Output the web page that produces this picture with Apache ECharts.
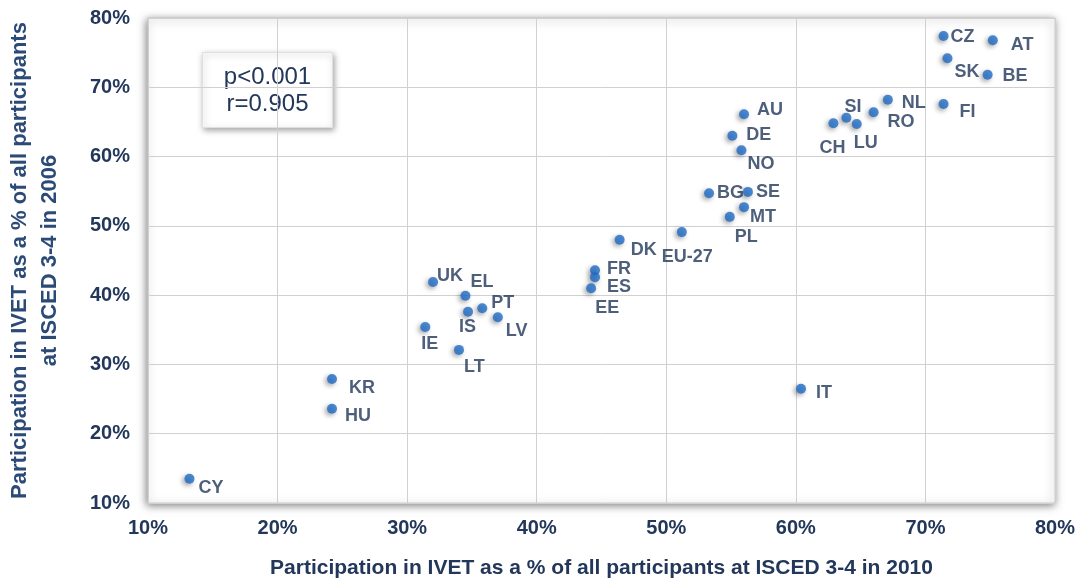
<!DOCTYPE html>
<html>
    <head>
        <meta charset="utf-8">
        <script src="https://cdn.jsdelivr.net/npm/echarts@6/dist/echarts.min.js"></script>
    </head>
    <body style="margin:0;background:#fff">
        <style>
            #main0 {
                width: 1083px;
                height: 583px;
            }
        </style>
        <div id="main0"></div>
        <script>
            // participation in IVET, % of all ISCED 3-4 participants
            var countries = ['CZ', 'AT', 'SK', 'BE', 'FI', 'NL', 'RO', 'SI', 'LU', 'CH',
                'AU', 'DE', 'NO', 'BG', 'SE', 'MT', 'PL', 'EU-27', 'DK', 'FR', 'ES', 'EE',
                'UK', 'EL', 'PT', 'IS', 'LV', 'IE', 'LT', 'KR', 'HU', 'CY', 'IT'];
            var share2010 = [71.4, 75.2, 71.7, 74.8, 71.4, 67.1, 66.0, 63.9, 64.7, 62.9,
                56.0, 55.1, 55.8, 53.3, 56.3, 56.0, 54.9, 51.2, 46.4, 44.5, 44.5, 44.2,
                32.0, 34.5, 35.8, 34.7, 37.0, 31.4, 34.0, 24.2, 24.2, 13.2, 60.4];
            var share2006 = [77.4, 76.8, 74.2, 71.8, 67.6, 68.2, 66.4, 65.6, 64.7, 64.8,
                66.1, 63.0, 60.9, 54.7, 54.9, 52.7, 51.3, 49.1, 48.0, 43.6, 42.6, 41.0,
                41.9, 39.9, 38.1, 37.6, 36.8, 35.4, 32.1, 27.9, 23.6, 13.5, 26.5];
            var ticks = [10, 20, 30, 40, 50, 60, 70, 80];
            var stats = ['p<0.001', 'r=0.905'];

            // label nudges (px) from the default 'right' spot, as in the original figure
            var labelOffset = {
                'CZ': [-3, 1], 'AT': [8, 5], 'SK': [-3, 14], 'BE': [5, 1], 'FI': [6, 8],
                'NL': [4, 3], 'RO': [4, 10], 'SI': [-12, -11], 'LU': [-13, 19], 'CH': [-24, 25],
                'AU': [3, -4], 'DE': [4, -1], 'NO': [-4, 14], 'BG': [-2, 0], 'SE': [-2, 0],
                'MT': [-4, 10], 'PL': [-5, 20], 'EU-27': [-30, 25], 'DK': [1, 10],
                'FR': [2, -1], 'ES': [2, 10], 'EE': [-6, 20], 'UK': [-6, -6], 'EL': [-5, -14],
                'PT': [-1, -5], 'IS': [-19, 15], 'LV': [-2, 14], 'IE': [-14, 17],
                'LT': [-5, 17], 'KR': [7, 9], 'HU': [3, 7], 'CY': [-1, 9], 'IT': [5, 4]
            };

            var navy = '#22375a';
            var font = 'Liberation Sans, Arial, sans-serif';
            var chart = echarts.init(document.getElementById('main0'));

            var points = countries.map(function (c, i) {
                return { name: c, value: [share2010[i], share2006[i]] };
            });

            var axisLabel = {
                formatter: '{value}%',
                color: navy,
                fontSize: 20,
                fontWeight: 'bold',
                fontFamily: font
            };
            var splitLine = { show: true, lineStyle: { color: '#d0d0d0', width: 1 } };

            chart.setOption({
                backgroundColor: '#fff',
                animation: false,
                grid: {
                    left: 148, top: 18, right: 28, bottom: 80,
                    containLabel: false,
                    outerBoundsMode: 'none',
                    show: true,
                    backgroundColor: '#fff',
                    borderColor: '#c8c8c8',
                    borderWidth: 1,
                    shadowColor: 'rgba(0,0,0,0.5)',
                    shadowBlur: 8,
                    shadowOffsetX: -1,
                    shadowOffsetY: 2
                },
                xAxis: {
                    type: 'value',
                    min: ticks[0], max: ticks[ticks.length - 1], interval: 10,
                    axisLine: { show: false },
                    axisTick: { show: false },
                    axisLabel: Object.assign({ margin: 15 }, axisLabel),
                    splitLine: splitLine,
                    name: 'Participation in IVET as a % of all participants at ISCED 3-4 in 2010',
                    nameLocation: 'middle',
                    nameGap: 55,
                    nameTextStyle: {
                        color: navy, fontSize: 21, fontWeight: 'bold', fontFamily: font
                    }
                },
                yAxis: {
                    type: 'value',
                    min: ticks[0], max: ticks[ticks.length - 1], interval: 10,
                    axisLine: { show: false },
                    axisTick: { show: false },
                    axisLabel: Object.assign({ margin: 18 }, axisLabel),
                    splitLine: splitLine,
                    name: 'Participation in IVET as a % of all participants\nat ISCED 3-4 in 2006',
                    nameLocation: 'middle',
                    nameGap: 83,
                    nameRotate: 90,
                    nameTextStyle: {
                        color: '#2b4a78', fontSize: 22, fontWeight: 'bold', lineHeight: 30,
                        fontFamily: font
                    }
                },
                graphic: [{
                    type: 'group',
                    left: 202, top: 52,
                    children: [{
                        type: 'rect',
                        shape: { x: 0, y: 0, width: 130, height: 75 },
                        style: {
                            fill: '#fff', stroke: '#e0e0e0', lineWidth: 1,
                            shadowColor: 'rgba(0,0,0,0.35)', shadowBlur: 6,
                            shadowOffsetX: 1, shadowOffsetY: 2
                        }
                    }, {
                        type: 'text',
                        style: {
                            x: 65, y: 38,
                            text: stats.join('\n'),
                            align: 'center', verticalAlign: 'middle',
                            fill: navy, fontSize: 24, lineHeight: 27,
                            fontFamily: font
                        }
                    }]
                }],
                series: [{
                    type: 'scatter',
                    data: points,
                    symbolSize: 10,
                    itemStyle: {
                        color: '#1f6cc4',
                        shadowColor: 'rgba(0,0,0,0.45)',
                        shadowBlur: 5,
                        shadowOffsetX: -2,
                        shadowOffsetY: 2
                    },
                    label: {
                        show: true,
                        position: 'right',
                        distance: 5,
                        formatter: '{b}',
                        color: navy,
                        fontSize: 18,
                        fontWeight: 'bold',
                        fontFamily: font
                    },
                    labelLayout: function (params) {
                        var off = labelOffset[countries[params.dataIndex]] || [0, 0];
                        return { dx: off[0], dy: off[1], hideOverlap: false };
                    }
                }]
            });
        </script>
    </body>
</html>
